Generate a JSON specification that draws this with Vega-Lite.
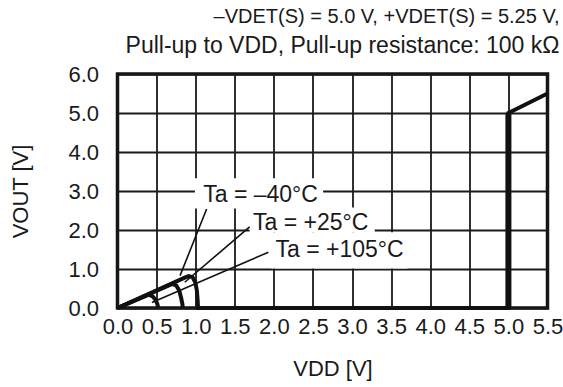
{
  "$schema": "https://vega.github.io/schema/vega-lite/v6.json",
  "width": 430,
  "height": 234,
  "autosize": {"type": "none"},
  "padding": {"left": 117.5, "top": 74, "right": 15.5, "bottom": 79},
  "background": "white",
  "config": {
    "font": "Liberation Sans",
    "view": {"stroke": "#111111", "strokeWidth": 3.5},
    "axis": {
      "grid": true, "gridColor": "#1a1a1a", "gridWidth": 1.8, "gridOpacity": 1,
      "domain": false, "ticks": false,
      "labelFont": "Liberation Sans", "labelFontSize": 22, "labelColor": "#1a1a1a",
      "titleFont": "Liberation Sans", "titleFontSize": 22, "titleFontWeight": "normal", "titleColor": "#1a1a1a"
    }
  },
  "title": {
    "text": "–VDET(S) = 5.0 V, +VDET(S) = 5.25 V,",
    "subtitle": "Pull-up to VDD, Pull-up resistance: 100 kΩ",
    "anchor": "end", "frame": "group", "fontSize": 20, "fontWeight": "normal", "font": "Liberation Sans",
    "color": "#1a1a1a", "offset": 5, "dx": 12,
    "subtitleFontSize": 23, "subtitleFont": "Liberation Sans", "subtitleColor": "#1a1a1a", "subtitlePadding": 8
  },
  "encoding": {
    "x": {"field": "x", "type": "quantitative", "scale": {"domain": [0, 5.5], "nice": false, "zero": false},
      "axis": {"values": [0, 0.5, 1, 1.5, 2, 2.5, 3, 3.5, 4, 4.5, 5, 5.5], "tickCount": 12, "format": ".1f", "title": "VDD [V]", "labelPadding": 8, "titlePadding": 21, "labelFlush": false, "labelOverlap": false}},
    "y": {"field": "y", "type": "quantitative", "scale": {"domain": [0, 6], "nice": false, "zero": false},
      "axis": {"values": [0, 1, 2, 3, 4, 5, 6], "tickCount": 7, "format": ".1f", "title": "VOUT [V]", "labelPadding": 19, "titlePadding": 35, "labelFlush": false, "labelOverlap": false}}
  },
  "layer": [
    {
      "data": {"values": [
        {"x": 0.99, "xe": 2.63, "y": 2.55, "ye": 3.33},
        {"x": 1.69, "xe": 3.29, "y": 1.94, "ye": 2.58},
        {"x": 1.97, "xe": 3.71, "y": 1.01, "ye": 1.94}
      ]},
      "mark": {"type": "rect", "fill": "white"},
      "encoding": {
        "x2": {"field": "xe"},
        "y2": {"field": "ye"}
      }
    },
    {
      "data": {"values": [
        {"s": "105", "i": 0, "x": 0, "y": 0},
        {"s": "105", "i": 1, "x": 0.40, "y": 0.34},
        {"s": "105", "i": 2, "x": 0.45, "y": 0.30},
        {"s": "105", "i": 3, "x": 0.49, "y": 0.20},
        {"s": "105", "i": 4, "x": 0.51, "y": 0.10},
        {"s": "105", "i": 5, "x": 0.52, "y": 0},
        {"s": "25", "i": 0, "x": 0, "y": 0},
        {"s": "25", "i": 1, "x": 0.70, "y": 0.62},
        {"s": "25", "i": 2, "x": 0.75, "y": 0.58},
        {"s": "25", "i": 3, "x": 0.79, "y": 0.45},
        {"s": "25", "i": 4, "x": 0.815, "y": 0.25},
        {"s": "25", "i": 5, "x": 0.83, "y": 0.10},
        {"s": "25", "i": 6, "x": 0.835, "y": 0},
        {"s": "-40", "i": 0, "x": 0, "y": 0},
        {"s": "-40", "i": 1, "x": 0.86, "y": 0.78},
        {"s": "-40", "i": 2, "x": 0.91, "y": 0.82},
        {"s": "-40", "i": 3, "x": 0.96, "y": 0.79},
        {"s": "-40", "i": 4, "x": 0.995, "y": 0.66},
        {"s": "-40", "i": 5, "x": 1.015, "y": 0.45},
        {"s": "-40", "i": 6, "x": 1.025, "y": 0.2},
        {"s": "-40", "i": 7, "x": 1.03, "y": 0},
        {"s": "-40", "i": 8, "x": 5.0, "y": 0},
        {"s": "-40", "i": 9, "x": 5.0, "y": 5.0},
        {"s": "-40", "i": 10, "x": 5.5, "y": 5.5}
      ]},
      "mark": {"type": "line", "color": "#111111", "strokeWidth": 4, "strokeJoin": "miter"},
      "encoding": {
        "detail": {"field": "s"},
        "order": {"field": "i", "type": "quantitative"}
      }
    },
    {
      "data": {"values": [{"x": 5.0, "y": 0, "ye": 5.0}]},
      "mark": {"type": "rule", "color": "#111111", "strokeWidth": 6},
      "encoding": {
        "y2": {"field": "ye"}
      }
    },
    {
      "data": {"values": [
        {"p": "a", "x": 1.14, "y": 2.54},
        {"p": "a", "x": 0.80, "y": 0.83},
        {"p": "b", "x": 1.69, "y": 2.08},
        {"p": "b", "x": 0.86, "y": 0.66},
        {"p": "c", "x": 1.93, "y": 1.43},
        {"p": "c", "x": 0.44, "y": 0.14}
      ]},
      "mark": {"type": "line", "color": "#111111", "strokeWidth": 1.6},
      "encoding": {
        "detail": {"field": "p"}
      }
    },
    {
      "data": {"values": [
        {"t": "Ta = –40°C", "x": 1.83, "y": 2.71},
        {"t": "Ta = +25°C", "x": 2.47, "y": 2.005},
        {"t": "Ta = +105°C", "x": 2.84, "y": 1.30}
      ]},
      "mark": {"type": "text", "fontSize": 23, "font": "Liberation Sans", "color": "#1a1a1a", "align": "center", "baseline": "alphabetic"},
      "encoding": {
        "text": {"field": "t"}
      }
    }
  ]
}
